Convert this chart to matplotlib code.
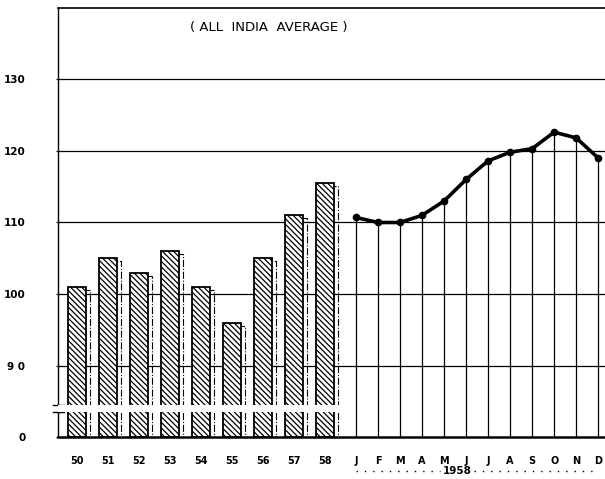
import numpy as np
import matplotlib.pyplot as plt
import matplotlib.transforms as mtransforms

# annual index (bars) and monthly index for 1958 (line)
years = ['50', '51', '52', '53', '54', '55', '56', '57', '58']
year_index = [101, 105, 103, 106, 101, 96, 105, 111, 115.5]
months = ['J', 'F', 'M', 'A', 'M', 'J', 'J', 'A', 'S', 'O', 'N', 'D']
month_index = [110.7, 110, 110, 111, 113, 116, 118.6, 119.8, 120.3, 122.6, 121.8, 119]
y_ticks = [90, 100, 110, 120, 130]
y_labels = ['9 0', '100', '110', '120', '130']

base = 80.1  # value drawn at the (broken) zero line
plt.rcParams['hatch.linewidth'] = 0.9

fig = plt.figure(figsize=(6.05, 4.79), dpi=100)
ax = fig.add_axes([0.096, 0.088, 0.904, 0.895])

bar_x = np.arange(len(years))
month_x = 9.0 + 0.71 * np.arange(len(months))
heights = np.array(year_index) - base

# horizontal rulings
for t in y_ticks:
    ax.axhline(t, color='black', lw=0.9, zorder=0)

# shadow edge of each bar
ax.bar(bar_x + 0.13, heights - 0.4, bottom=base, width=0.58, fill=False,
       edgecolor='black', linestyle='-.', lw=0.8, zorder=1)
# bars
ax.bar(bar_x, heights, bottom=base, width=0.58, color='white',
       edgecolor='black', hatch='\\' * 6, lw=1.3, zorder=2)

# monthly verticals and line
ax.vlines(month_x, base, month_index, color='black', lw=0.9, zorder=1)
ax.plot(month_x, month_index, color='black', lw=2.6, marker='o', ms=4.5, zorder=4)

# axis break
ax.fill_between([-0.61, 8.5], 83.6, 84.6, color='white', zorder=5, lw=0)

ax.set_xlim(-0.61, 17.03)
ax.set_ylim(base, 139.9)

ax.set_xticks(list(bar_x) + list(month_x))
ax.set_xticklabels(years + months, fontsize=7, fontweight='bold')
ax.set_yticks([base] + y_ticks)
ax.set_yticklabels(['0'] + y_labels, fontsize=7.5, fontweight='bold')
ax.tick_params(axis='x', length=0, pad=14)
ax.tick_params(axis='y', length=3, direction='inout', pad=22)

ax.spines['right'].set_visible(False)
ax.spines['top'].set_linewidth(1.2)
ax.spines['bottom'].set_linewidth(1.8)
ax.spines['left'].set_linewidth(1.0)
ax.spines['left'].set_bounds(84.6, 139.9)

# lower piece of the left axis and break marks
tr = mtransforms.blended_transform_factory(ax.transAxes, ax.transData)
ax.plot([0, 0], [base, 83.6], color='black', lw=1.0, transform=tr, clip_on=False)
ax.plot([-0.01, 0.01], [84.6, 84.6], color='black', lw=1.0, transform=tr, clip_on=False)
ax.plot([-0.01, 0.01], [83.6, 83.6], color='black', lw=1.0, transform=tr, clip_on=False)

# year caption under the months
trx = mtransforms.blended_transform_factory(ax.transData, ax.transAxes)
ax.text(12.25, -0.079, '1958', transform=trx, ha='center', va='center',
        fontsize=7.5, fontweight='bold')
ax.plot([month_x[0], 11.7], [-0.079, -0.079], color='black', lw=1.0,
        linestyle=(0, (1, 5)), transform=trx, clip_on=False)
ax.plot([12.8, month_x[-1]], [-0.079, -0.079], color='black', lw=1.0,
        linestyle=(0, (1, 5)), transform=trx, clip_on=False)

ax.text(0.386, 0.955, '( ALL  INDIA  AVERAGE )', transform=ax.transAxes,
        ha='center', va='center', fontsize=9.5)

fig.savefig('out.png', dpi=100)
